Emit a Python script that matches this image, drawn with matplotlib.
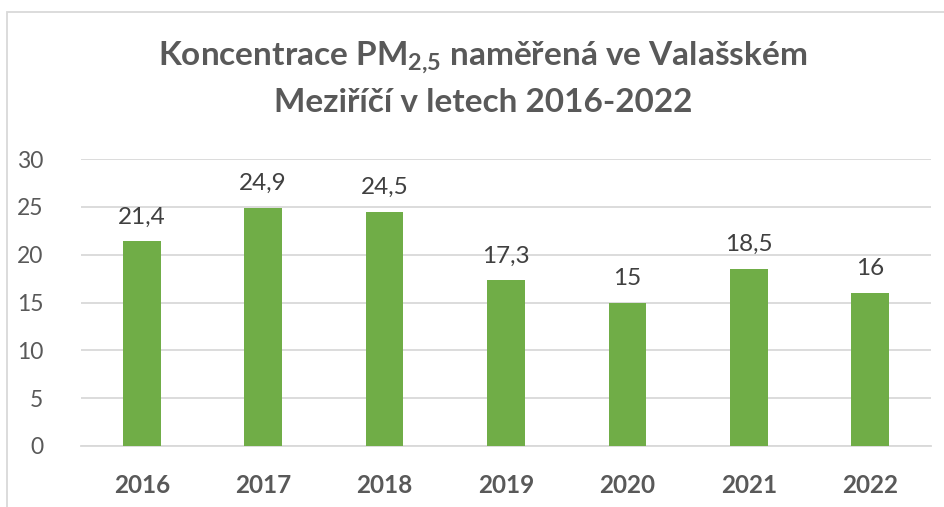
import matplotlib.pyplot as plt
from matplotlib.patches import Rectangle

years = ['2016', '2017', '2018', '2019', '2020', '2021', '2022']
pm25 = [21.4, 24.9, 24.5, 17.3, 15, 18.5, 16]
labels = ['21,4', '24,9', '24,5', '17,3', '15', '18,5', '16']

plt.rcParams['font.family'] = ['Lato', 'DejaVu Sans']
plt.rcParams['mathtext.default'] = 'regular'

fig = plt.figure(figsize=(9.45, 5.07), dpi=100)
ax = fig.add_axes([81/945, 1 - 446/507, 850/945, 287/507])

bars = ax.bar(years, pm25, width=0.31, color='#70AD47', zorder=3)
ax.bar_label(bars, labels=labels, padding=10, fontsize=17.5, color='#404040')

ax.set_ylim(0, 30)
ax.set_yticks(range(0, 31, 5))
ax.set_xlim(-0.5, 6.5)
ax.grid(axis='y', color='#D9D9D9', linewidth=1.3, zorder=0)
for s in ['top', 'right', 'left']:
    ax.spines[s].set_visible(False)
ax.spines['bottom'].set_color('#D9D9D9')
ax.spines['bottom'].set_linewidth(1.3)
ax.tick_params(axis='both', length=0, colors='#595959', labelsize=16.5)
ax.tick_params(axis='y', pad=27)
ax.tick_params(axis='x', pad=20, labelsize=17.5)
for t in ax.get_xticklabels():
    t.set_fontweight('bold')

fig.text(483/945, 1 - 58/507, 'Koncentrace PM$_{2{,}5}$ naměřená ve Valašském',
         ha='center', va='center', fontsize=24, fontweight='bold', color='#595959')
fig.text(483/945, 1 - 102/507, 'Meziříčí v letech 2016-2022',
         ha='center', va='center', fontsize=24, fontweight='bold', color='#595959')

fig.patches.append(Rectangle((7/945, -0.1), 1.2, 1.1 - 12/507, transform=fig.transFigure,
                             fill=False, edgecolor='#D9D9D9', linewidth=1.3))

fig.savefig('out.png', dpi=100)
